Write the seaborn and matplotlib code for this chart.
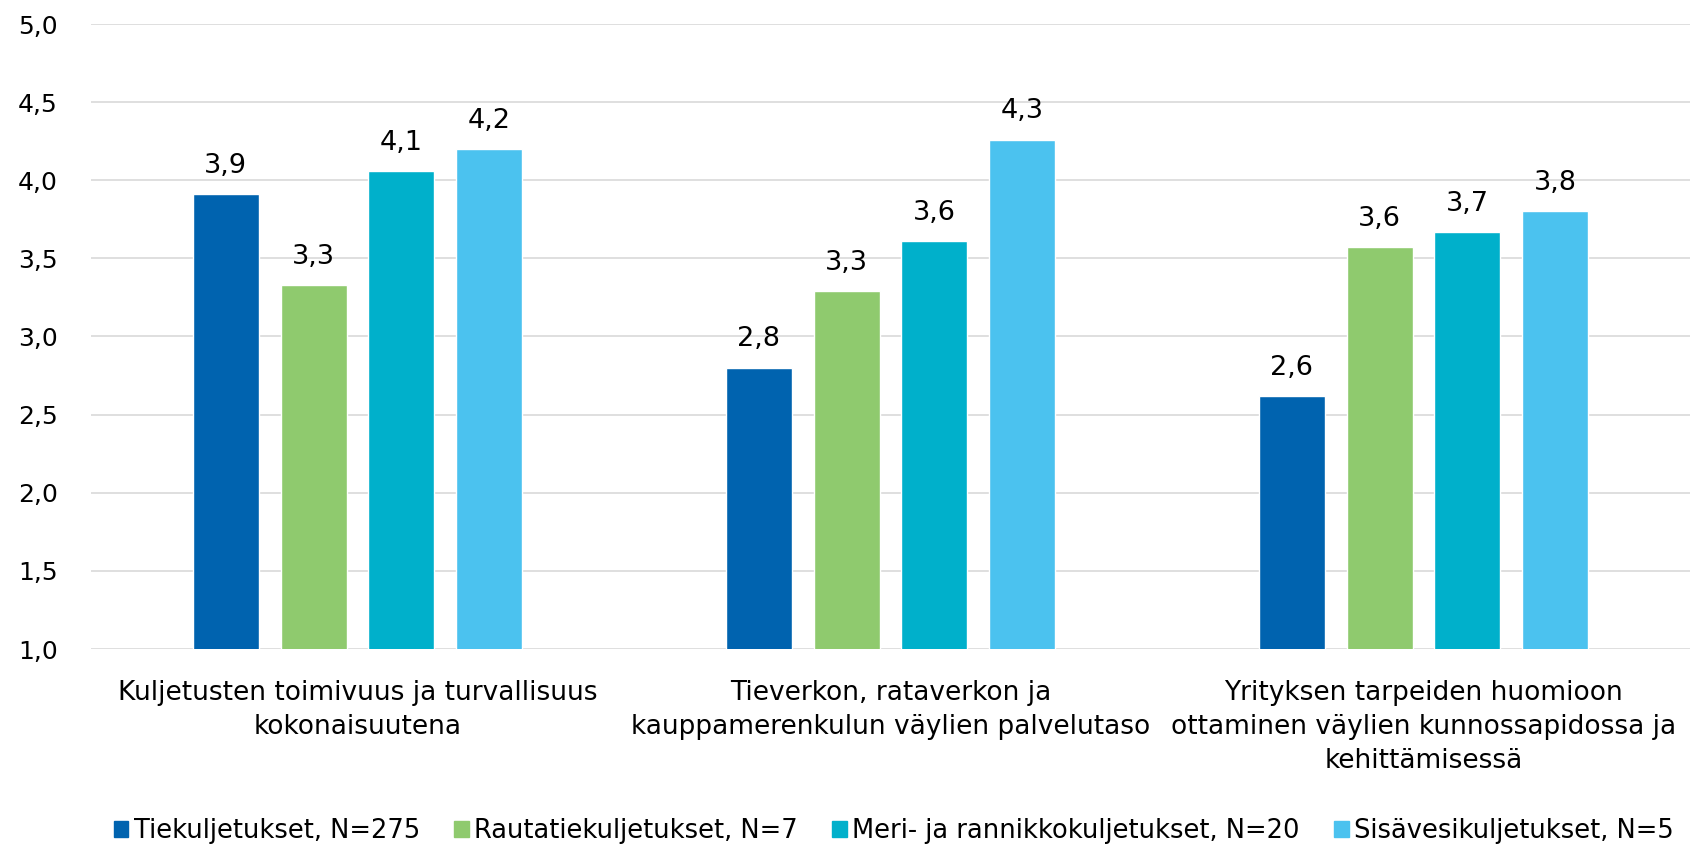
import numpy as np
import pandas as pd
import matplotlib
matplotlib.use('Agg')
import matplotlib.pyplot as plt
import seaborn as sns
from matplotlib.ticker import FuncFormatter

# Aineisto
categories = [
    'Kuljetusten toimivuus ja turvallisuus\nkokonaisuutena',
    'Tieverkon, rataverkon ja\nkauppamerenkulun väylien palvelutaso',
    'Yrityksen tarpeiden huomioon\nottaminen väylien kunnossapidossa ja\nkehittämisessä',
]
series = ['Tiekuljetukset, N=275', 'Rautatiekuljetukset, N=7',
          'Meri- ja rannikkokuljetukset, N=20', 'Sisävesikuljetukset, N=5']
tie = [3.91, 2.80, 2.62]
rauta = [3.33, 3.29, 3.57]
meri = [4.06, 3.61, 3.67]
sisavesi = [4.20, 4.26, 3.80]
colors = ['#0063AF', '#8FCA6E', '#00B0CB', '#4BC2EF']

df = pd.DataFrame({
    'kategoria': categories * 4,
    'sarja': np.repeat(series, 3),
    'arvo': tie + rauta + meri + sisavesi,
})

sns.set_style('white')
plt.rcParams['font.family'] = ['DejaVu Sans']
plt.rcParams['text.color'] = 'black'
plt.rcParams['xtick.color'] = 'black'
plt.rcParams['ytick.color'] = 'black'

fig = plt.figure(figsize=(17.08, 8.46), dpi=100)
ax = fig.add_axes([91 / 1708, 1 - 649 / 846, (1690 - 91) / 1708, (649 - 24) / 846])

sns.barplot(data=df, x='kategoria', y='arvo', hue='sarja', order=categories,
            hue_order=series, palette=colors, width=0.66, gap=0.25,
            saturation=1, legend=False, ax=ax)

for cont in ax.containers:
    ax.bar_label(cont, labels=[f"{v:.1f}".replace('.', ',') for v in cont.datavalues],
                 padding=11, fontsize=19.5, color='black')

ax.set_ylim(1, 5)
ax.set_yticks(np.arange(1, 5.01, 0.5))
ax.yaxis.set_major_formatter(FuncFormatter(lambda v, p: f"{v:.1f}".replace('.', ',')))
ax.grid(axis='y', color='#D9D9D9', linewidth=1.2)
ax.set_axisbelow(True)
for s in ax.spines.values():
    s.set_visible(False)
ax.tick_params(axis='y', length=0, pad=24, labelsize=18, labelcolor='black')
ax.tick_params(axis='x', length=0, pad=22, labelsize=19, labelcolor='black')
for lbl in ax.get_xticklabels():
    lbl.set_linespacing(1.4)
ax.set_xlabel('')
ax.set_ylabel('')

# Selite
handles = [plt.Rectangle((0, 0), 1, 1, color=c) for c in colors]
fig.legend(handles, series, loc='center left', bbox_to_anchor=(114 / 1708, 1 - 831 / 846),
           ncol=4, frameon=False, fontsize=18.5, handlelength=0.56, handleheight=0.56,
           handletextpad=0.2, columnspacing=1.35, borderpad=0, borderaxespad=0)

fig.savefig('out.png', dpi=100)
